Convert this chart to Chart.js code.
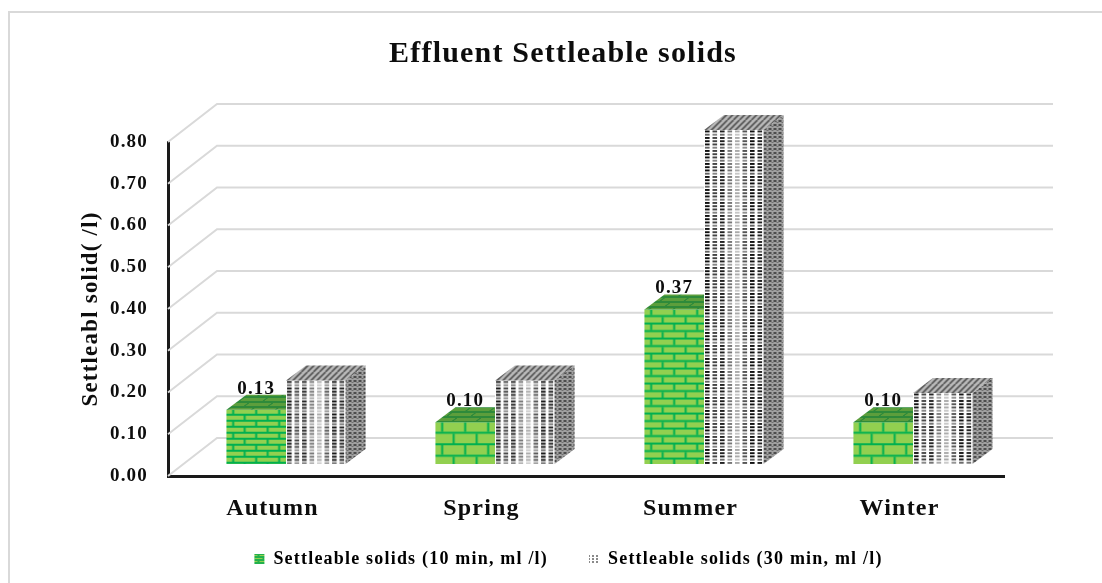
<!DOCTYPE html>
<html>
<head>
<meta charset="utf-8">
<title>Effluent Settleable solids</title>
<script src="https://cdn.jsdelivr.net/npm/chart.js@4"></script>
<style>
    html, body { margin: 0; padding: 0; background: #fff; overflow: hidden; }
    #frame { position: absolute; left: 8px; top: 11px; width: 1200px; height: 700px; border: 2px solid #d9d9d9; }
    #effluentChart { position: absolute; left: 0; top: 0; }
</style>
</head>
<body>
<div id="frame"></div>
<canvas id="effluentChart" width="1102" height="583"></canvas>
<script>
const seasons = ["Autumn", "Spring", "Summer", "Winter"];
const solids10Min = [0.13, 0.10, 0.37, 0.10];
const solids30Min = [0.20, 0.20, 0.80, 0.17];
const series10Name = "Settleable solids (10 min, ml /l)";
const series30Name = "Settleable solids (30 min, ml /l)";

const INK = "#0d0d0d";
const GRID = "#d9d9d9";
const serif = "'Liberation Serif', serif";

// Offsets of the bar plane and the back wall from the front of the box
const barShift = { x: 13.5, y: -12 };
const wallShift = { x: 49, y: -38 };
const barDepth = { x: 20, y: 15 };

const makeTile = (w, h, paint) => {
    const c = document.createElement("canvas");
    c.width = w;
    c.height = h;
    paint(c.getContext("2d"), w, h);
    return document.createElement("canvas").getContext("2d").createPattern(c, "repeat");
};

// Running-bond bricks, two rows per tile
const brickTile = (rowH, brick, mortar, len = 23) => makeTile(len, Math.round(rowH * 2), (g, w, h) => {
    const m = 2;
    g.fillStyle = brick;
    g.fillRect(0, 0, w, h);
    g.fillStyle = mortar;
    g.fillRect(0, h / 2 - m, w, m);
    g.fillRect(0, h - m, w, m);
    g.fillRect(w * 0.25, 0, m, h / 2 - m);
    g.fillRect(w * 0.75, h / 2, m, h / 2 - m);
});

// Columns of small dashes on white, each column its own strength
const dashColumns = ["#111", "#444", "#222", "#777", "#aaa", "#555", "#111", "#222"];
const dashTile = () => makeTile(60, 13, (g, w, h) => {
    g.fillStyle = "#fff";
    g.fillRect(0, 0, w, h);
    dashColumns.forEach((col, i) => {
        for (let r = 0; r < 4; r++) {
            g.fillStyle = col;
            g.globalAlpha = r === 1 ? 0.65 : 1;
            g.fillRect(i * 7.5 + 1, r * 3.25 + 0.5, 4.6, 1.9);
        }
    });
    g.globalAlpha = 1;
});

const sideTile = () => makeTile(5, 4, (g, w, h) => {
    g.fillStyle = "#a0a0a0";
    g.fillRect(0, 0, w, h);
    g.fillStyle = "#4d4d4d";
    g.fillRect(0, 0, 3, 2);
    g.fillStyle = "#707070";
    g.fillRect(3, 2, 2, 1);
});

const roofTile = () => makeTile(12, 12, (g, w, h) => {
    g.fillStyle = "#b8b8b8";
    g.fillRect(0, 0, w, h);
    g.strokeStyle = "#555";
    g.lineWidth = 1.6;
    for (let i = -12; i <= 24; i += 6) {
        g.beginPath();
        g.moveTo(i, h);
        g.lineTo(i + 12, 0);
        g.stroke();
    }
});

const brickRows = [6, 11.7, 7.3, 11.7];
const brickFills = brickRows.map((h) => brickTile(h, "#92d050", "#00b050"));
const dashFills = seasons.map(() => dashTile());
const greenRoof = brickTile(5, "#5c9e3c", "#2e8a3a", 24);
greenRoof.setTransform(new DOMMatrix([1, 0, -1.33, 1, 0, 0]));
const greySide = sideTile();
const greyRoof = roofTile();

const legendGreen = brickTile(3, "#92d050", "#22b14c", 10);
const legendDash = makeTile(4, 3, (g, w, h) => {
    g.fillStyle = "#fff";
    g.fillRect(0, 0, w, h);
    g.fillStyle = "#8a8a8a";
    g.fillRect(0, 0, 2, 2);
});

const polygon = (ctx, fill, pts) => {
    ctx.beginPath();
    pts.forEach(([x, y], i) => (i ? ctx.lineTo(x, y) : ctx.moveTo(x, y)));
    ctx.closePath();
    ctx.fillStyle = fill;
    ctx.fill();
};

const boxPlugin = {
    id: "box3d",
    beforeLayout(chart) {
        chart.ctx.letterSpacing = "1.2px";
    },
    beforeDraw(chart) {
        chart.ctx.letterSpacing = "1.2px";
    },
    afterLayout(chart) {
        // title and legend sit centred on the whole picture, not the plot
        [[chart.titleBlock, 61], [chart.legend, 66.5]].forEach(([block, dx]) => {
            block.left += dx;
            block.right += dx;
        });
        // the wide legend padding and the axis labels need room past their layout boxes
        chart.legend.bottom = chart.height;
        chart.legend.height = chart.legend.bottom - chart.legend.top;
        chart.scales.x.bottom = chart.legend.top + 20;
    },
    beforeDatasetsDraw(chart) {
        const { ctx, scales: { x, y } } = chart;
        // diagonal floor/wall lines and the back wall grid
        ctx.save();
        ctx.strokeStyle = GRID;
        ctx.lineWidth = 2;
        y.ticks.forEach((t) => {
            const py = y.getPixelForValue(t.value);
            ctx.beginPath();
            ctx.moveTo(x.left, py);
            ctx.lineTo(x.left + wallShift.x, py + wallShift.y);
            ctx.lineTo(x.right + wallShift.x, py + wallShift.y);
            ctx.stroke();
        });
        ctx.restore();

        // bars stand in the middle of the box depth
        ctx.save();
        ctx.translate(barShift.x, barShift.y);

        // anchor each fill to the corner of its own bar
        chart.getDatasetMeta(0).data.forEach((bar, i) => {
            brickFills[i].setTransform(new DOMMatrix().translate(bar.x - bar.width / 2, bar.y));
        });
        chart.getDatasetMeta(1).data.forEach((bar, i) => {
            dashFills[i].setTransform(new DOMMatrix().translate(bar.x - bar.width / 2, bar.y));
        });
    },
    afterDatasetDraw(chart, args) {
        const { ctx } = chart;
        const dx = barDepth.x;
        const dy = barDepth.y;
        args.meta.data.forEach((bar) => {
            const l = bar.x - bar.width / 2;
            const r = bar.x + bar.width / 2;
            const t = bar.y;
            const b = bar.base;
            if (args.index === 0) {
                // the taller neighbour hides everything past the right edge
                polygon(ctx, greenRoof, [[l, t], [r, t], [r, t - dy], [l + dx, t - dy]]);
            } else {
                polygon(ctx, greyRoof, [[l, t], [r, t], [r + dx, t - dy], [l + dx, t - dy]]);
                polygon(ctx, greySide, [[r, t], [r + dx, t - dy], [r + dx, b - dy], [r, b]]);
            }
        });
    },
    afterDatasetsDraw(chart) {
        const { ctx } = chart;
        ctx.fillStyle = INK;
        ctx.font = "bold 19px " + serif;
        ctx.textAlign = "center";
        ctx.textBaseline = "middle";
        chart.getDatasetMeta(0).data.forEach((bar, i) => {
            ctx.fillText(solids10Min[i].toFixed(2), bar.x, bar.y - 21);
        });
        ctx.restore();
    },
};

new Chart(document.getElementById("effluentChart"), {
    type: "bar",
    data: {
        labels: seasons,
        datasets: [
            { label: series10Name, data: solids10Min, backgroundColor: brickFills },
            { label: series30Name, data: solids30Min, backgroundColor: dashFills },
        ],
    },
    plugins: [boxPlugin],
    options: {
        responsive: false,
        animation: false,
        layout: { padding: { left: 0, right: 98, top: 0, bottom: 34 } },
        datasets: { bar: { categoryPercentage: 0.57, barPercentage: 1, clip: false } },
        plugins: {
            tooltip: { enabled: false },
            title: {
                display: true,
                text: "Effluent Settleable solids",
                color: INK,
                font: { family: serif, size: 30, weight: "bold" },
                padding: { top: 36, bottom: 70 },
            },
            legend: {
                position: "bottom",
                maxHeight: 40,
                labels: {
                    color: INK,
                    font: { family: serif, size: 18, weight: "bold" },
                    boxWidth: 10,
                    boxHeight: 10,
                    padding: 41,
                    generateLabels: () => [
                        { text: series10Name, fillStyle: legendGreen, lineWidth: 0, datasetIndex: 0 },
                        { text: series30Name, fillStyle: legendDash, lineWidth: 0, datasetIndex: 1 },
                    ],
                },
            },
        },
        scales: {
            x: {
                grid: { display: false },
                border: { color: "#1a1a1a", width: 3 },
                ticks: { color: INK, padding: 10, font: { family: serif, size: 24, weight: "bold" } },
                afterFit: (scale) => { scale.height = 33; },
            },
            y: {
                min: 0,
                max: 0.8,
                grid: { display: false },
                border: { color: "#1a1a1a", width: 3 },
                ticks: {
                    stepSize: 0.1,
                    color: INK,
                    padding: 12,
                    font: { family: serif, size: 19, weight: "bold" },
                    callback: (v) => v.toFixed(2),
                },
                title: {
                    display: true,
                    text: "Settleabl solid( /l)",
                    color: INK,
                    font: { family: serif, size: 23, weight: "bold" },
                    padding: { top: 77, bottom: 0 },
                },
                afterFit: (scale) => { scale.width = 168; },
            },
        },
    },
});
</script>
</body>
</html>
